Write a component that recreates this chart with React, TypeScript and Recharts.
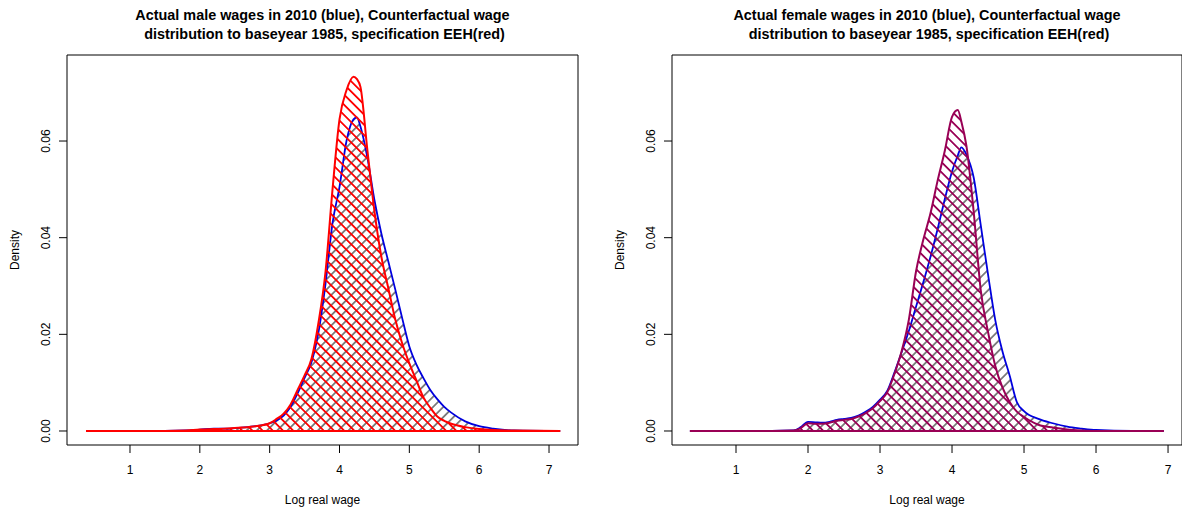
import React from "react";
import {
  ComposedChart,
  Area,
  XAxis,
  YAxis,
  ReferenceArea,
  ReferenceLine,
  Label,
} from "recharts";

// log real wage grid + density readings, male panel
const maleX = [
  0.37, 1.0, 1.5, 1.8, 2.0, 2.2, 2.4, 2.6, 2.8, 3.0, 3.1, 3.2, 3.3, 3.4, 3.5,
  3.6, 3.7, 3.8, 3.9, 4.0, 4.1, 4.2, 4.25, 4.3, 4.4, 4.5, 4.6, 4.7, 4.8, 4.9,
  5.0, 5.1, 5.2, 5.3, 5.4, 5.5, 5.6, 5.8, 6.0, 6.2, 6.5, 7.16,
];
const maleActual = [
  0, 0, 0, 0.0001, 0.0003, 0.0005, 0.0005, 0.0007, 0.001, 0.0016, 0.0022,
  0.0032, 0.005, 0.0078, 0.011, 0.0143, 0.0205, 0.0305, 0.043, 0.0505, 0.06,
  0.0645, 0.0649, 0.063, 0.0565, 0.0478, 0.0408, 0.035, 0.0292, 0.0232, 0.0175,
  0.0138, 0.011, 0.0085, 0.0066, 0.005, 0.0038, 0.002, 0.001, 0.0005, 0.0001, 0,
];
const maleCounterfactual = [
  0, 0, 0, 0.0001, 0.0003, 0.0004, 0.0005, 0.0007, 0.001, 0.0016, 0.0025,
  0.0036, 0.0055, 0.0085, 0.0115, 0.015, 0.0225, 0.033, 0.05, 0.0645, 0.0705,
  0.0733, 0.0728, 0.0712, 0.058, 0.0455, 0.036, 0.0295, 0.023, 0.018, 0.014,
  0.0105, 0.007, 0.0048, 0.003, 0.0021, 0.0015, 0.0008, 0.0004, 0.0002, 0.0001,
  0,
];

// female panel
const femaleX = [
  0.36, 1.0, 1.5, 1.8, 1.9, 2.0, 2.1, 2.2, 2.3, 2.4, 2.5, 2.6, 2.7, 2.8, 2.9,
  3.0, 3.1, 3.2, 3.3, 3.4, 3.5, 3.6, 3.7, 3.8, 3.9, 4.0, 4.08, 4.13, 4.2, 4.3,
  4.4, 4.5, 4.6, 4.7, 4.8, 4.9, 5.0, 5.2, 5.4, 5.6, 5.8, 6.0, 6.5, 6.94,
];
const femaleActual = [
  0, 0, 0, 0.0001, 0.0008, 0.0019, 0.0018, 0.0017, 0.0019, 0.0023, 0.0025,
  0.0027, 0.0032, 0.004, 0.005, 0.0065, 0.0083, 0.0121, 0.0163, 0.0207, 0.0257,
  0.0307, 0.036, 0.0418, 0.048, 0.0537, 0.057, 0.0587, 0.0572, 0.0525, 0.0425,
  0.0324, 0.023, 0.0165, 0.0115, 0.006, 0.0041, 0.0025, 0.0016, 0.0009, 0.0005,
  0.0002, 0, 0,
];
const femaleCounterfactual = [
  0, 0, 0, 0.0001, 0.0006, 0.0016, 0.0015, 0.0015, 0.0017, 0.0021, 0.0023,
  0.0025, 0.003, 0.0037, 0.0047, 0.0062, 0.008, 0.0118, 0.0165, 0.023, 0.033,
  0.0395, 0.045, 0.0518, 0.058, 0.065, 0.0664, 0.064, 0.059, 0.0455, 0.029,
  0.0205, 0.0135, 0.009, 0.006, 0.004, 0.0029, 0.0013, 0.0007, 0.0003, 0.0001,
  0, 0, 0,
];

const xTicks = [1, 2, 3, 4, 5, 6, 7];
const yTicks = [0, 0.02, 0.04, 0.06];
const yDomain: [number, number] = [-0.0029, 0.0778];

const FONT = "'Liberation Sans', Arial, Helvetica, sans-serif";
const BLUE = "#0000DD";
const HATCH = 7.2;

const YTick = (props: any) => {
  const { x, y, payload } = props;
  return (
    <text
      x={x}
      y={y}
      transform={`rotate(-90 ${x} ${y})`}
      textAnchor="middle"
      fontSize={12}
      fontFamily={FONT}
      fill="#000"
    >
      {Number(payload.value).toFixed(2)}
    </text>
  );
};

type PanelProps = {
  id: string;
  left: number;
  marginLeft: number;
  marginRight: number;
  title: string[];
  xs: number[];
  actual: number[];
  cf: number[];
  cfColor: string;
  xDomain: [number, number];
};

function Panel(p: PanelProps) {
  const rows = p.xs.map((x, i) => ({ x, actual: p.actual[i], cf: p.cf[i] }));
  const plotLeft = p.marginLeft + 67;
  const plotWidth = 591 - plotLeft - p.marginRight;
  return (
    <div style={{ position: "absolute", left: p.left, top: 0, width: 591, height: 510 }}>
      <div
        style={{
          position: "absolute",
          left: plotLeft,
          width: plotWidth,
          top: 6,
          textAlign: "center",
          fontFamily: FONT,
          fontWeight: "bold",
          fontSize: 14.4,
          lineHeight: "18.5px",
          whiteSpace: "pre",
        }}
      >
        {p.title[0]}
        <br />
        {p.title[1]}
      </div>
      <ComposedChart
        width={591}
        height={510}
        data={rows}
        margin={{ top: 55, right: p.marginRight, bottom: 0, left: p.marginLeft }}
      >
        <defs>
          <pattern
            id={`blk-${p.id}`}
            patternUnits="userSpaceOnUse"
            width={HATCH}
            height={HATCH}
            patternTransform="rotate(45)"
          >
            <line x1={HATCH / 2} y1={0} x2={HATCH / 2} y2={HATCH} stroke="#111" strokeWidth={1} />
          </pattern>
          <pattern
            id={`cf-${p.id}`}
            patternUnits="userSpaceOnUse"
            width={HATCH}
            height={HATCH}
            patternTransform="rotate(-45)"
          >
            <line x1={HATCH / 2} y1={0} x2={HATCH / 2} y2={HATCH} stroke={p.cfColor} strokeWidth={1.8} />
          </pattern>
        </defs>
        <XAxis
          type="number"
          dataKey="x"
          domain={p.xDomain}
          allowDataOverflow
          ticks={xTicks}
          interval={0}
          axisLine={false}
          tickSize={8}
          tickMargin={12}
          height={65}
          tickLine={{ stroke: "#000" }}
          tick={{ fontSize: 12, fill: "#000", fontFamily: FONT }}
        >
          <Label
            content={(lp: any) => {
              const vb = lp.viewBox;
              return (
                <text
                  x={vb.x + vb.width / 2}
                  y={vb.y + 59}
                  textAnchor="middle"
                  fontSize={12}
                  fontFamily={FONT}
                  fill="#000"
                >
                  Log real wage
                </text>
              );
            }}
          />
        </XAxis>
        <YAxis
          type="number"
          domain={yDomain}
          allowDataOverflow
          ticks={yTicks}
          interval={0}
          axisLine={false}
          width={67}
          tickSize={8}
          tickMargin={9}
          tickLine={{ stroke: "#000" }}
          tick={(tp: any) => <YTick {...tp} />}
        >
          <Label
            content={(lp: any) => {
              const vb = lp.viewBox;
              const cx = vb.x + 19;
              const cy = vb.y + vb.height / 2;
              return (
                <text
                  x={cx}
                  y={cy}
                  transform={`rotate(-90 ${cx} ${cy})`}
                  textAnchor="middle"
                  fontSize={12}
                  fontFamily={FONT}
                  fill="#000"
                >
                  Density
                </text>
              );
            }}
          />
        </YAxis>
        <Area
          type="monotone"
          dataKey="actual"
          stroke={BLUE}
          strokeWidth={1.8}
          fill={`url(#blk-${p.id})`}
          fillOpacity={1}
          baseValue={0}
          dot={false}
          activeDot={false}
          isAnimationActive={false}
        />
        <Area
          type="monotone"
          dataKey="cf"
          stroke={p.cfColor}
          strokeWidth={2}
          fill={`url(#cf-${p.id})`}
          fillOpacity={1}
          baseValue={0}
          dot={false}
          activeDot={false}
          isAnimationActive={false}
        />
        <ReferenceLine
          segment={[
            { x: p.xs[0], y: 0 },
            { x: p.xs[p.xs.length - 1], y: 0 },
          ]}
          stroke={p.cfColor}
          strokeWidth={2}
          ifOverflow="visible"
        />
        <ReferenceArea
          x1={p.xDomain[0]}
          x2={p.xDomain[1]}
          y1={yDomain[0]}
          y2={yDomain[1]}
          fill="none"
          fillOpacity={0}
          stroke="#000"
          strokeWidth={1}
          ifOverflow="visible"
        />
      </ComposedChart>
    </div>
  );
}

export default function App() {
  return (
    <div style={{ position: "absolute", left: 0, top: 0, width: 1182, height: 510, background: "#fff" }}>
      <Panel
        id="m"
        left={0}
        marginLeft={0}
        marginRight={13}
        title={[
          "Actual male wages in 2010 (blue), Counterfactual wage",
          " distribution to baseyear 1985, specification EEH(red)",
        ]}
        xs={maleX}
        actual={maleActual}
        cf={maleCounterfactual}
        cfColor="#FF0000"
        xDomain={[0.098, 7.415]}
      />
      <Panel
        id="f"
        left={591}
        marginLeft={14}
        marginRight={0}
        title={[
          "Actual female wages in 2010 (blue), Counterfactual wage",
          " distribution to baseyear 1985, specification EEH(red)",
        ]}
        xs={femaleX}
        actual={femaleActual}
        cf={femaleCounterfactual}
        cfColor="#990055"
        xDomain={[0.111, 7.194]}
      />
    </div>
  );
}
